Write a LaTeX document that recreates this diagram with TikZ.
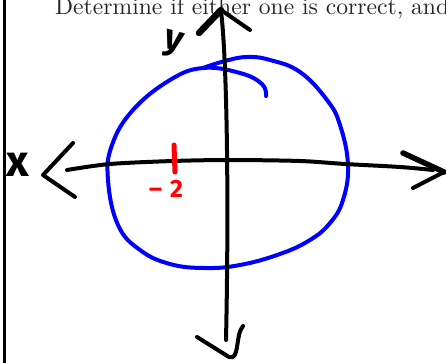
\documentclass[tikz,border=0pt]{standalone}
\usepackage{fontspec}
\newfontfamily\handfont{Fira Sans}
\newfontfamily\promptfont{lmroman10-regular.otf}
\begin{document}
\begin{tikzpicture}[x=1pt,y=-1pt,
  pen/.style={line width=4pt,line cap=round,line join=round},
  hand/.style={font=\handfont\bfseries\fontsize{36}{36}\selectfont,inner sep=0pt}]
  \useasboundingbox (0,0) rectangle (446,363);
  \clip (0,0) rectangle (446,363);
  \draw[line width=2.5pt] (4.5,0)--(4.5,363);
  \node[anchor=base west,inner sep=0pt,text=black!85,font=\promptfont\fontsize{23.6}{25}\selectfont]
    (prompt) at (55,15) {Determine if either one is correct, and};
  % circle
  \draw[pen,blue] plot[smooth,tension=0.7] coordinates {(266,96) (262,84) (240,73) (203,68)
    (170,80) (133,110) (112,145) (108,180) (118,225) (140,250) (170,264) (205,268)
    (240,265) (280,254) (310,240) (330,223) (343,200) (348,165) (340,125) (327,100)
    (300,72) (270,60) (247,57) (225,61) (203,68)};
  % y axis
  \draw[pen] (221,11) .. controls (227,60) and (229,200) .. (226,340);
  \draw[pen,line width=6.5pt] (199,33)--(221,10);
  \draw[pen] (221,10)--(250,30);
  \draw[pen] (197,337)--(229,357) .. controls (240,361) and (235,335) .. (243,326);
  % x axis
  \draw[pen] plot[smooth] coordinates {(67,170) (110,164) (173,161) (230,160)
    (300,161) (345,164) (400,167) (433,170)};
  \draw[pen,line width=5.5pt] (403,153)--(444,172);
  \draw[pen] (444,172)--(413,188);
  \draw[pen] (73,143)--(43,175)--(75,197);
  % labels
  \node[hand,rotate=-15] (ylabel) at (173,45) {y};
  \node[hand,font=\handfont\bfseries\fontsize{44}{44}\selectfont] (xlabel) at (18,165) {x};
  \draw[pen,red,line width=5pt] (174,145)--(175,172);
  \node[hand,red,font=\handfont\bfseries\fontsize{25}{25}\selectfont] (ticklabel) at (166,189) {–\hspace{8pt}2};
\end{tikzpicture}
\end{document}
